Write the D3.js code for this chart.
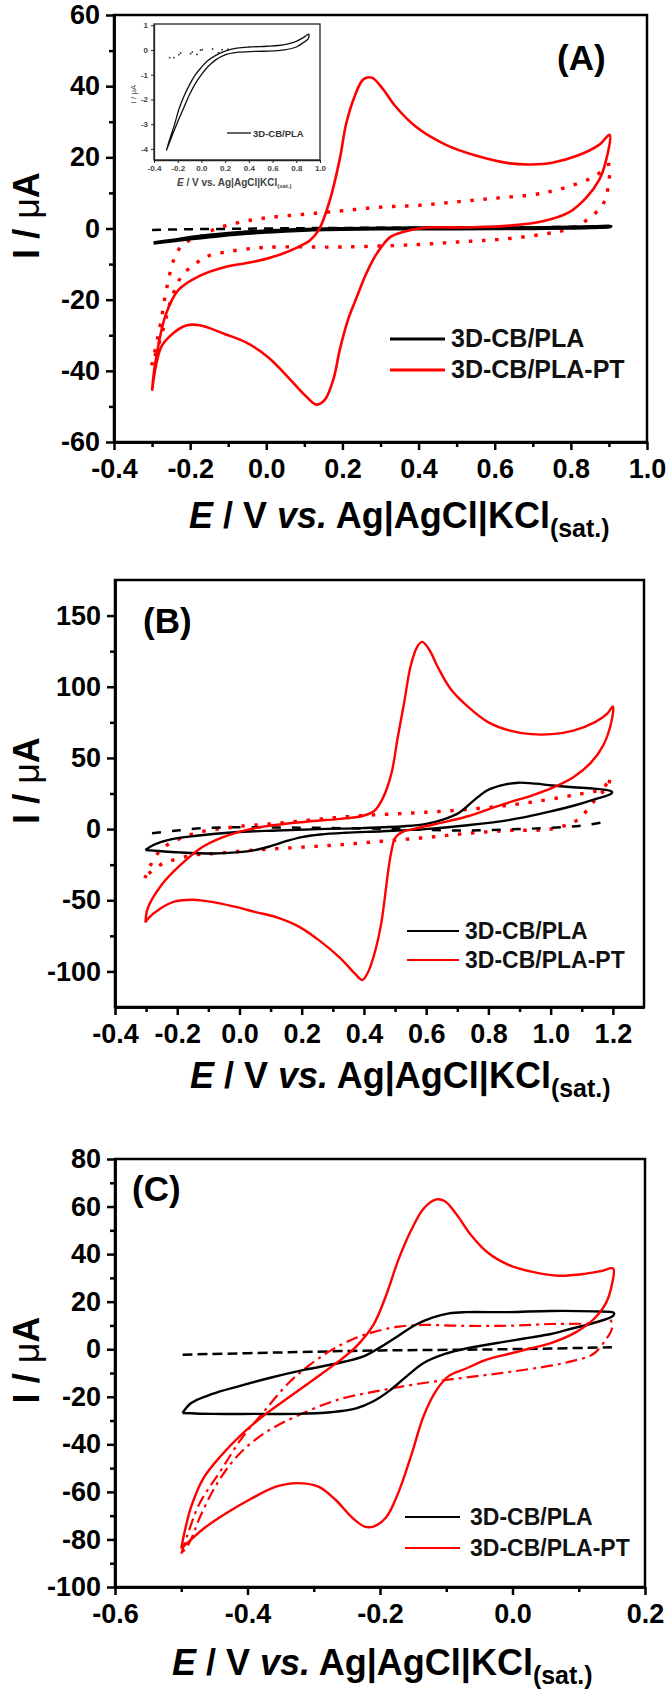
<!DOCTYPE html>
<html><head><meta charset="utf-8">
<script src="https://cdn.jsdelivr.net/npm/d3@7"></script>
<style>body{margin:0;background:#fff}svg{display:block}</style>
</head><body><svg id="c" width="666" height="1691"></svg>
<script>
// ---------- DATA ----------
// Panel A
const aXTicks = [-0.4,-0.2,0,0.2,0.4,0.6,0.8,1.0];
const aXLabels = ["-0.4","-0.2","0.0","0.2","0.4","0.6","0.8","1.0"];
const aXMinor = [-0.3,-0.1,0.1,0.3,0.5,0.7,0.9];
const aYTicks = [-60,-40,-20,0,20,40,60];
const aYLabels = ["-60","-40","-20","0","20","40","60"];
const aYMinor = [-50,-30,-10,10,30,50];
const aPT = [[-0.30,-45.6],[-0.292,-38.1],[-0.264,-24.2],[-0.23,-17.2],[-0.175,-13.3],[-0.108,-10.8],[-0.03,-9.3],[0.037,-7.3],[0.082,-5.3],[0.115,-3.3],[0.138,-0.4],[0.166,7.6],[0.193,19.5],[0.21,29.5],[0.233,37.4],[0.255,41.9],[0.277,42.4],[0.305,39.4],[0.338,34.5],[0.394,28.5],[0.472,23.5],[0.55,20.5],[0.64,18.3],[0.696,18.0],[0.751,18.5],[0.818,20.5],[0.874,23.5],[0.902,26.3],[0.891,18.5],[0.874,13.6],[0.84,8.6],[0.796,4.6],[0.729,2.1],[0.64,0.8],[0.528,0.3],[0.417,0.2],[0.361,-0.9],[0.327,-2.3],[0.305,-4.8],[0.283,-8.3],[0.26,-13.3],[0.238,-19.2],[0.216,-25.2],[0.193,-34.1],[0.177,-42.1],[0.154,-48.1],[0.132,-49.5],[0.104,-47.1],[0.06,-42.1],[0.004,-36.1],[-0.052,-32.1],[-0.108,-29.7],[-0.175,-27.2],[-0.208,-27.2],[-0.242,-29.2],[-0.275,-33.1],[-0.30,-45.6]];
const aPTblank = [[-0.30,-38],[-0.28,-28],[-0.26,-16],[-0.24,-8],[-0.215,-4],[-0.186,-2.9],[-0.14,-0.4],[-0.08,1.5],[0,3],[0.1,4],[0.2,5],[0.3,6],[0.4,6.5],[0.5,7.5],[0.6,8.5],[0.7,9.5],[0.75,10.5],[0.8,12],[0.85,14],[0.88,16],[0.9,18],[0.895,10],[0.88,6],[0.86,4],[0.83,1.5],[0.8,0],[0.75,-1.2],[0.64,-2.8],[0.5,-3.8],[0.4,-4.5],[0.2,-5.2],[0.0,-5.3],[-0.1,-6.5],[-0.16,-8],[-0.19,-10.3],[-0.22,-13],[-0.25,-20],[-0.27,-28],[-0.29,-35],[-0.30,-38]];
const aCB = [[-0.296,-4.07],[-0.26,-3.5],[-0.226,-3.0],[-0.19,-2.4],[-0.15,-1.9],[-0.1,-1.4],[-0.05,-1.0],[0.0,-0.7],[0.05,-0.45],[0.11,-0.25],[0.2,-0.05],[0.3,0.07],[0.4,0.12],[0.55,0.15],[0.65,0.18],[0.73,0.25],[0.8,0.35],[0.86,0.5],[0.905,0.64],[0.9,0.45],[0.86,0.3],[0.8,0.12],[0.7,0.0],[0.6,-0.04],[0.45,-0.06],[0.3,-0.1],[0.2,-0.2],[0.12,-0.4],[0.05,-0.7],[0.0,-1.0],[-0.05,-1.35],[-0.1,-1.8],[-0.15,-2.35],[-0.2,-2.9],[-0.25,-3.5],[-0.296,-4.07]];
const aCBblank = [[-0.3,-0.4],[-0.2,-0.2],[-0.1,-0.1],[0,0],[0.1,0.1],[0.3,0.2],[0.5,0.25],[0.7,0.35],[0.9,0.6]];
const insetBlankDots = [[-0.268,-0.31],[-0.232,-0.31],[-0.19,-0.19],[-0.176,-0.12],[-0.091,-0.15],[-0.077,-0.08],[-0.038,-0.18],[-0.007,-0.01],[0.007,0.01],[0.094,0.04],[0.144,-0.11],[0.175,0.01],[0.223,0.03]];
const insetXTicks = [-0.4,-0.2,0,0.2,0.4,0.6,0.8,1.0];
const insetXLabels = ["-0.4","-0.2","0.0","0.2","0.4","0.6","0.8","1.0"];
const insetYTicks = [-4,-3,-2,-1,0,1];
const insetYLabels = ["-4","-3","-2","-1","0","1"];
// Panel B
const bXTicks = [-0.4,-0.2,0,0.2,0.4,0.6,0.8,1.0,1.2];
const bXLabels = ["-0.4","-0.2","0.0","0.2","0.4","0.6","0.8","1.0","1.2"];
const bXMinor = [-0.3,-0.1,0.1,0.3,0.5,0.7,0.9,1.1];
const bYTicks = [-100,-50,0,50,100,150];
const bYLabels = ["-100","-50","0","50","100","150"];
const bYMinor = [-75,-25,25,75,125];
const bPT = [[-0.302,-65.7],[-0.295,-55.8],[-0.247,-38.3],[-0.193,-25.9],[-0.125,-13.4],[-0.057,-6],[0.025,-0.5],[0.107,2.7],[0.215,5.2],[0.324,7.2],[0.392,9],[0.433,12.7],[0.46,21.4],[0.488,38.8],[0.508,63.7],[0.529,88.6],[0.549,113.5],[0.569,127.2],[0.587,131.5],[0.61,126],[0.638,113.5],[0.678,98.6],[0.733,86.2],[0.8,75],[0.869,69.2],[0.937,66.7],[1.005,66.7],[1.073,69.2],[1.141,75],[1.182,81.2],[1.2,86.2],[1.196,76.2],[1.169,58.8],[1.128,46.3],[1.073,36.4],[1.005,28.9],[0.937,23.4],[0.869,18.9],[0.8,13.9],[0.733,9],[0.665,5.2],[0.597,2],[0.556,-0.2],[0.529,-1.5],[0.501,-6],[0.488,-15.9],[0.477,-30.9],[0.467,-48.3],[0.454,-68.2],[0.433,-88.1],[0.413,-100.6],[0.395,-106],[0.372,-101.8],[0.324,-90.6],[0.256,-78.2],[0.188,-68.2],[0.12,-62],[0.052,-58.3],[-0.016,-54.5],[-0.084,-51.3],[-0.152,-49.6],[-0.207,-50.8],[-0.254,-55.8],[-0.295,-63.2],[-0.302,-65.7]];
const bPTblank = [[-0.302,-33.4],[-0.281,-23.4],[-0.247,-13.4],[-0.152,-3.5],[-0.016,1.5],[0.12,4],[0.256,7],[0.392,9.5],[0.529,11],[0.665,12.7],[0.8,15.2],[0.937,18.9],[1.073,23.9],[1.169,28.9],[1.19,36.4],[1.182,28.9],[1.155,23.9],[1.128,16.4],[1.087,6.5],[1.005,0.2],[0.869,-1],[0.733,-3],[0.597,-6],[0.46,-8.5],[0.324,-11],[0.188,-12.9],[0.052,-14.7],[-0.084,-17.2],[-0.152,-18.4],[-0.22,-22.2],[-0.261,-25.9],[-0.295,-32.1]];
const bCB = [[-0.302,-14.7],[-0.275,-11],[-0.22,-7.2],[-0.139,-4.7],[-0.016,-2.2],[0.12,-1],[0.256,0],[0.392,0.7],[0.529,2],[0.597,3.5],[0.651,6.5],[0.706,11.5],[0.76,21.4],[0.8,27.6],[0.855,31.4],[0.896,32.6],[0.951,31.9],[1.005,30.6],[1.073,29.4],[1.141,28.4],[1.196,26.4],[1.196,25.1],[1.141,20.9],[1.073,16.4],[1.005,12.7],[0.869,6.5],[0.733,2.7],[0.597,0],[0.46,-1.5],[0.34,-2.6],[0.26,-3.8],[0.2,-5.6],[0.15,-8.5],[0.1,-12],[0.05,-14.8],[-0.01,-16.4],[-0.084,-17.2],[-0.193,-16.4],[-0.261,-15.4],[-0.302,-14.7]];
const bCBblank = [[-0.281,-3],[-0.2,-1],[-0.084,1],[0.188,1],[0.46,0.2],[0.733,-1],[0.9,0],[1.005,1],[1.1,2.5],[1.182,5.2]];
// Panel C
const cXTicks = [-0.6,-0.4,-0.2,0,0.2];
const cXLabels = ["-0.6","-0.4","-0.2","0.0","0.2"];
const cXMinor = [-0.5,-0.3,-0.1,0.1];
const cYTicks = [-100,-80,-60,-40,-20,0,20,40,60,80];
const cYLabels = ["-100","-80","-60","-40","-20","0","20","40","60","80"];
const cYMinor = [-90,-70,-50,-30,-10,10,30,50,70];
const cPT = [[-0.5,-83.8],[-0.495,-76.9],[-0.485,-66.2],[-0.466,-54],[-0.44,-44.8],[-0.408,-35.6],[-0.376,-28],[-0.338,-20.3],[-0.3,-12.7],[-0.262,-5],[-0.236,1.1],[-0.21,10.2],[-0.191,22.5],[-0.172,37.8],[-0.153,50],[-0.134,59.2],[-0.115,63],[-0.102,62.2],[-0.083,56.1],[-0.064,48.5],[-0.038,40.8],[-0.006,35.5],[0.032,32.4],[0.07,30.9],[0.109,31.7],[0.134,32.9],[0.152,33.9],[0.15,27.1],[0.141,19.4],[0.122,12.5],[0.096,7.2],[0.058,2.6],[0.026,0.3],[-0.006,-2],[-0.038,-4.3],[-0.07,-8.1],[-0.096,-11.2],[-0.115,-17.3],[-0.134,-28],[-0.153,-44.8],[-0.172,-60.1],[-0.191,-70.8],[-0.21,-74.6],[-0.223,-74.6],[-0.242,-70.8],[-0.268,-63.1],[-0.293,-57.8],[-0.325,-56.3],[-0.357,-57.8],[-0.396,-63.1],[-0.434,-69.3],[-0.466,-75.4],[-0.491,-81.5],[-0.5,-83.8]];
const cPTblank = [[-0.5,-86],[-0.491,-78.4],[-0.472,-64.7],[-0.44,-50.9],[-0.408,-37.2],[-0.376,-26.5],[-0.338,-14.2],[-0.306,-6.6],[-0.274,-0.5],[-0.242,4.1],[-0.21,7.2],[-0.172,9.5],[-0.134,10.2],[-0.07,9.8],[-0.006,9.9],[0.058,10.6],[0.122,11],[0.147,12.5],[0.15,8.7],[0.141,4.1],[0.122,-2],[0.09,-5],[0.058,-6.9],[-0.006,-9.6],[-0.07,-11.9],[-0.134,-14.2],[-0.198,-17.3],[-0.262,-21.1],[-0.325,-28],[-0.376,-35.6],[-0.415,-44.8],[-0.447,-57],[-0.472,-70.8],[-0.488,-81.5],[-0.5,-86]];
const cCB = [[-0.498,-26.8],[-0.485,-22.6],[-0.453,-18.8],[-0.415,-15.7],[-0.364,-11.9],[-0.313,-8.6],[-0.262,-5.8],[-0.223,-2.8],[-0.198,1.1],[-0.172,5.7],[-0.147,10.2],[-0.121,13.3],[-0.096,15.1],[-0.07,15.6],[-0.006,15.6],[0.058,16.1],[0.122,15.9],[0.153,15.3],[0.152,14.1],[0.122,11],[0.09,8.7],[0.058,6.4],[0.026,4.9],[-0.006,3.4],[-0.07,0.3],[-0.102,-2],[-0.134,-5.8],[-0.159,-11.2],[-0.185,-17.3],[-0.21,-21.9],[-0.236,-24.9],[-0.274,-26.5],[-0.325,-27.2],[-0.389,-27.2],[-0.453,-27.2],[-0.498,-26.8]];
const cCBblank = [[-0.498,-2.3],[-0.325,-1.2],[-0.198,-0.5],[-0.07,-0.2],[0.058,0.3],[0.15,0.8]];
const legendNames = ["3D-CB/PLA","3D-CB/PLA-PT"];

// ---------- DRAW ----------
const svg = d3.select("#c");
svg.append("rect").attr("width",666).attr("height",1691).attr("fill","#fff");
const FONT = "'Liberation Sans', Arial, Helvetica, sans-serif";

function drawPanel(p) {
  const x = d3.scaleLinear().domain(p.xd).range([p.L, p.R]);
  const y = d3.scaleLinear().domain(p.yd).range([p.B, p.T]);
  const g = svg.append("g");
  const line = d3.line().x(d=>x(d[0])).y(d=>y(d[1])).curve(d3.curveCatmullRom.alpha(0.5));
  p.series.forEach(s => {
    g.append("path").attr("d", line(s.data)).attr("fill","none")
      .attr("stroke", s.color).attr("stroke-width", s.w)
      .attr("stroke-dasharray", s.dash || null)
      .attr("stroke-linecap", s.cap || "butt").attr("stroke-linejoin","round");
  });
  g.append("rect").attr("x",p.L).attr("y",p.T).attr("width",p.R-p.L).attr("height",p.B-p.T)
    .attr("fill","none").attr("stroke","#000").attr("stroke-width",2.5);
  const xa = g.append("g").attr("transform",`translate(0,${p.B})`)
    .call(d3.axisBottom(x).tickValues(p.xt).tickFormat((d,i)=>p.xl[i]).tickSize(8).tickSizeOuter(0).tickPadding(9));
  const xm = g.append("g").attr("transform",`translate(0,${p.B})`)
    .call(d3.axisBottom(x).tickValues(p.xm).tickFormat("").tickSize(5).tickSizeOuter(0));
  const ya = g.append("g").attr("transform",`translate(${p.L},0)`)
    .call(d3.axisLeft(y).tickValues(p.yt).tickFormat((d,i)=>p.yl[i]).tickSize(8).tickSizeOuter(0).tickPadding(6));
  const ym = g.append("g").attr("transform",`translate(${p.L},0)`)
    .call(d3.axisLeft(y).tickValues(p.ym).tickFormat("").tickSize(5).tickSizeOuter(0));
  [xa,xm,ya,ym].forEach(a=>{
    a.select(".domain").attr("stroke","#000").attr("stroke-width",2.5);
    a.selectAll(".tick line").attr("stroke","#000").attr("stroke-width",2.5);
    a.selectAll("text").attr("font-size",27).attr("font-weight","bold").attr("font-family",FONT).attr("fill","#000");
  });
  g.append("text").attr("x",p.lab[0]).attr("y",p.lab[1]).attr("font-family",FONT)
    .attr("font-size",35).attr("font-weight","bold").text(p.label);
  const yt = g.append("text").attr("transform",`translate(39,${(p.T+p.B)/2-13}) rotate(-90)`)
    .attr("text-anchor","middle").attr("font-family",FONT).attr("font-size",36).attr("font-weight","bold");
  yt.append("tspan").text("I / ");
  yt.append("tspan").attr("font-weight","normal").text("\u03bc");
  yt.append("tspan").text("A");
  const xt = g.append("text").attr("x",p.xtPos[0]).attr("y",p.xtPos[1]).attr("font-family",FONT)
    .attr("font-size",36).attr("font-weight","bold");
  xt.append("tspan").attr("font-style","italic").text("E");
  xt.append("tspan").text(" / V ");
  xt.append("tspan").attr("font-style","italic").text("vs.");
  xt.append("tspan").text(" Ag|AgCl|KCl");
  xt.append("tspan").attr("font-size",25).attr("dy",9).text("(sat.)");
  const colors = ["#000","#ff0000"];
  legendNames.forEach((n,i)=>{
    const ly = p.leg.y + i*p.leg.dy;
    g.append("line").attr("x1",p.leg.x1).attr("x2",p.leg.x2).attr("y1",ly).attr("y2",ly)
      .attr("stroke",colors[i]).attr("stroke-width",p.leg.w);
    g.append("text").attr("x",p.leg.tx).attr("y",ly+8).attr("font-family",FONT)
      .attr("font-size",p.leg.fs).attr("font-weight",p.leg.fw).attr("fill","#111").text(n);
  });
  return {x,y,g};
}

drawPanel({
  xd:[-0.4,1.0], yd:[-60,60], L:114, R:647, T:15, B:442,
  xt:aXTicks, xl:aXLabels, xm:aXMinor, yt:aYTicks, yl:aYLabels, ym:aYMinor,
  label:"(A)", lab:[557,70], xtPos:[189,528],
  leg:{x1:390,x2:445,tx:451,y:339,dy:31,w:3,fs:25,fw:"bold"},
  series:[
    {data:aPTblank,color:"#ff0000",w:3.4,dash:"0.1,13",cap:"square"},
    {data:aCBblank,color:"#000",w:2.5,dash:"9,7"},
    {data:aCB,color:"#000",w:3.4},
    {data:aPT,color:"#ff0000",w:2.6}
  ]
});

// inset
(function(){
  const L=154,R=320,T=24,B=160;
  const x = d3.scaleLinear().domain([-0.4,1.0]).range([L,R]);
  const y = d3.scaleLinear().domain([-4.45,1.05]).range([B,T]);
  const g = svg.append("g");
  g.append("rect").attr("x",L).attr("y",T).attr("width",R-L).attr("height",B-T)
    .attr("fill","#fff").attr("stroke","#222").attr("stroke-width",1.3);
  const line = d3.line().x(d=>x(d[0])).y(d=>y(d[1])).curve(d3.curveCatmullRom.alpha(0.5));
  g.append("path").attr("d",line(aCB)).attr("fill","none").attr("stroke","#111").attr("stroke-width",1.3);
  g.selectAll("circle.bd").data(insetBlankDots).enter().append("circle")
    .attr("cx",d=>x(d[0])).attr("cy",d=>y(d[1])).attr("r",0.9).attr("fill","#333");
  const xa = g.append("g").attr("transform",`translate(0,${B})`)
    .call(d3.axisBottom(x).tickValues(insetXTicks).tickFormat((d,i)=>insetXLabels[i]).tickSize(3).tickSizeOuter(0).tickPadding(2));
  const ya = g.append("g").attr("transform",`translate(${L},0)`)
    .call(d3.axisLeft(y).tickValues(insetYTicks).tickFormat((d,i)=>insetYLabels[i]).tickSize(3).tickSizeOuter(0).tickPadding(3));
  [xa,ya].forEach(a=>{
    a.select(".domain").attr("stroke","#222").attr("stroke-width",1.3);
    a.selectAll(".tick line").attr("stroke","#222").attr("stroke-width",1);
    a.selectAll("text").attr("font-size",8).attr("font-weight","bold").attr("font-family",FONT).attr("fill","#444");
  });
  g.append("text").attr("transform",`translate(136,94) rotate(-90)`).attr("text-anchor","middle")
    .attr("font-family",FONT).attr("font-size",8).attr("fill","#555").text("I / \u03bcA");
  const t = g.append("text").attr("x",177).attr("y",186).attr("font-family",FONT).attr("font-size",10)
    .attr("font-weight","bold").attr("fill","#444");
  t.append("tspan").attr("font-style","italic").text("E");
  t.append("tspan").text(" / V ");
  t.append("tspan").text("vs.");
  t.append("tspan").text(" Ag|AgCl|KCl");
  t.append("tspan").attr("font-size",6).attr("dy",2).text("(sat.)");
  g.append("line").attr("x1",227).attr("x2",251).attr("y1",133).attr("y2",133).attr("stroke","#111").attr("stroke-width",1.3);
  g.append("text").attr("x",253).attr("y",136.5).attr("font-family",FONT).attr("font-size",9.5)
    .attr("font-weight","bold").attr("fill","#333").text(legendNames[0]);
})();

drawPanel({
  xd:[-0.4,1.3], yd:[-125,175], L:115, R:644, T:580, B:1007,
  xt:bXTicks, xl:bXLabels, xm:bXMinor, yt:bYTicks, yl:bYLabels, ym:bYMinor,
  label:"(B)", lab:[143,633], xtPos:[190,1088],
  leg:{x1:407,x2:459,tx:465,y:931,dy:29,w:2.2,fs:23,fw:"bold"},
  series:[
    {data:bPTblank,color:"#ff0000",w:3.4,dash:"0.1,13",cap:"square"},
    {data:bCBblank,color:"#000",w:2.5,dash:"9,11"},
    {data:bCB,color:"#000",w:2.4},
    {data:bPT,color:"#ff0000",w:2.4}
  ]
});

drawPanel({
  xd:[-0.6,0.2], yd:[-100,80], L:115, R:645, T:1159, B:1587,
  xt:cXTicks, xl:cXLabels, xm:cXMinor, yt:cYTicks, yl:cYLabels, ym:cYMinor,
  label:"(C)", lab:[132,1201], xtPos:[172,1675],
  leg:{x1:405,x2:460,tx:470,y:1517,dy:31,w:2.2,fs:23,fw:"bold"},
  series:[
    {data:cCBblank,color:"#000",w:2.5,dash:"10,5"},
    {data:cPTblank,color:"#ff0000",w:2.2,dash:"12,5,3,5"},
    {data:cCB,color:"#000",w:2.4},
    {data:cPT,color:"#ff0000",w:2.4}
  ]
});
</script></body></html>
